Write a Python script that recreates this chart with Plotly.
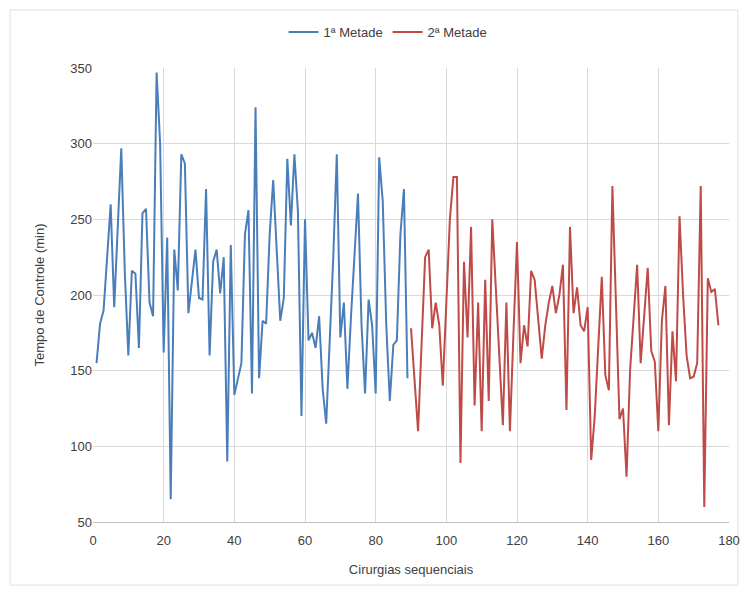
import plotly.graph_objects as go

# Data
x_first = list(range(1, 90))
y_first = [155, 181, 190, 225, 260, 192, 240, 297, 215, 160,
           216, 214, 165, 254, 257, 195, 186, 347, 300, 162,
           238, 65, 230, 203, 293, 287, 188, 210, 230, 198,
           197, 270, 160, 222, 230, 201, 225, 90, 233, 134,
           145, 155, 240, 256, 135, 324, 145, 183, 181, 240,
           276, 225, 183, 198, 290, 246, 293, 255, 120, 250,
           170, 175, 165, 186, 138, 115, 165, 225, 293, 172,
           195, 138, 185, 225, 267, 180, 135, 197, 180, 135,
           291, 262, 180, 130, 167, 170, 240, 270, 145]

x_second = list(range(90, 178))
y_second = [178, 145, 110, 168, 225, 230, 178, 195, 180, 140,
            200, 250, 278, 278, 89, 222, 172, 245, 127, 195,
            110, 210, 130, 250, 205, 160, 114, 195, 110, 175,
            235, 155, 180, 166, 216, 210, 185, 158, 180, 195,
            206, 188, 200, 220, 124, 245, 188, 205, 180, 176,
            192, 91, 120, 165, 212, 147, 137, 272, 190, 118,
            125, 80, 150, 185, 220, 155, 185, 218, 163, 156,
            110, 183, 206, 114, 176, 143, 252, 200, 160, 145,
            146, 155, 272, 60, 211, 202, 204, 180]

x_ticks = [0, 20, 40, 60, 80, 100, 120, 140, 160, 180]
y_ticks = [50, 100, 150, 200, 250, 300, 350]

fig = go.Figure()
fig.add_trace(go.Scatter(x=x_first, y=y_first, mode="lines", name="1ª Metade",
                         line=dict(color="#4A7EBB", width=2)))
fig.add_trace(go.Scatter(x=x_second, y=y_second, mode="lines", name="2ª Metade",
                         line=dict(color="#BE4B48", width=2)))

font_family = "Liberation Sans Narrow, Liberation Sans, Arial"
fig.update_layout(
    width=747, height=592,
    margin=dict(l=93, r=18, t=68, b=70, autoexpand=False),
    paper_bgcolor="white", plot_bgcolor="white",
    font=dict(family=font_family, size=13, color="#404040"),
    showlegend=True,
    legend=dict(orientation="h", x=0.464, xanchor="center", y=1.079, yanchor="middle",
                font=dict(size=13, color="#404040"), itemwidth=30),
    xaxis=dict(range=[0, 180], tickvals=x_ticks, showgrid=True, gridcolor="#D9D9D9",
               zeroline=False, showline=True, linecolor="#BFBFBF", ticks="",
               ticklabelstandoff=6, automargin=False,
               tickfont=dict(size=13, color="#404040"),
               title=dict(text="Cirurgias sequenciais", standoff=18,
                          font=dict(size=13, color="#404040"))),
    yaxis=dict(range=[50, 350], tickvals=y_ticks, showgrid=True, gridcolor="#D9D9D9",
               zeroline=False, showline=False, ticks="", automargin=False,
               tickfont=dict(size=13, color="#404040"),
               title=dict(text="Tempo de Controle (min)", standoff=22,
                          font=dict(size=13, color="#404040"))),
    shapes=[dict(type="rect", xref="paper", yref="paper",
                 x0=-0.1305, x1=1.014, y0=-0.139, y1=1.128,
                 line=dict(color="#E0E0E0", width=1), fillcolor="rgba(0,0,0,0)",
                 layer="below")],
)

fig.write_html("out.html", config={"displayModeBar": False},
               post_script="document.body.style.margin='0';document.body.style.overflow='hidden';")
